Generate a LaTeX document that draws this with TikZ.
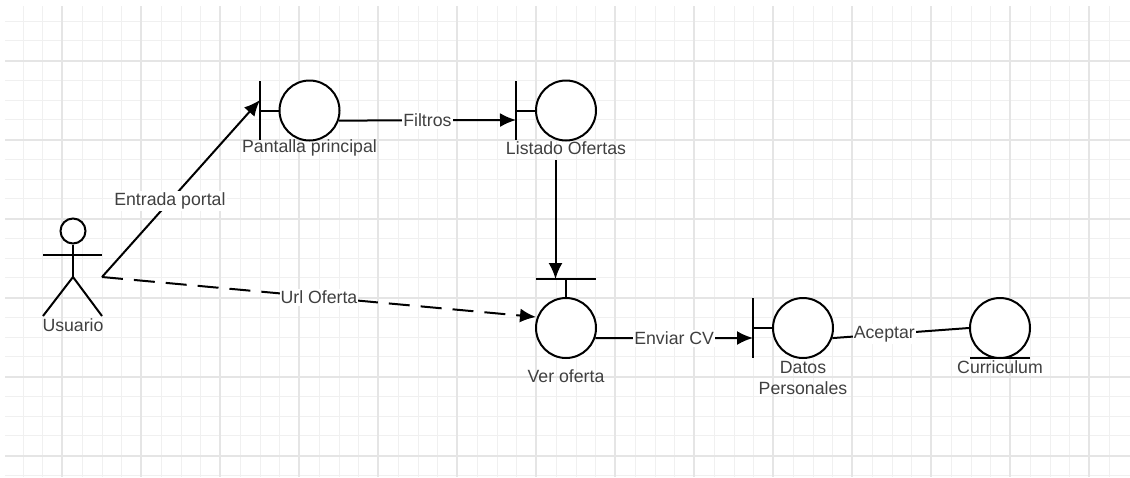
\documentclass[tikz,border=0pt]{standalone}
\usepackage{fontspec}
\setmainfont{Liberation Sans}
\usetikzlibrary{arrows.meta}
\begin{document}
\begin{tikzpicture}[x=1pt,y=-1pt,
  ball/.style={circle,draw,line width=2pt,fill=white,minimum size=60pt,inner sep=0pt},
  head/.style={circle,draw,line width=2pt,fill=white,minimum size=25pt,inner sep=0pt},
  bar/.style={line width=2pt},
  flow/.style={line width=2pt,-{Latex[length=16pt,width=14pt]}},
  plain/.style={line width=2pt},
  txt/.style={text=black!75,font=\fontsize{17.7}{21}\selectfont,align=center,inner sep=0pt},
  tag/.style={txt,fill=white,inner xsep=1pt,inner ysep=2pt}]
\useasboundingbox (0,0) rectangle (1130,477);
% grid
\foreach \i in {0,...,55} {
  \draw[black!6,line width=1pt] ({23+19.75*\i},6) -- ({23+19.75*\i},477);
}
\foreach \j in {0,...,23} {
  \draw[black!6,line width=1pt] (5,{21+19.75*\j}) -- (1130,{21+19.75*\j});
}
\foreach \i in {0,...,13} {
  \draw[black!10,line width=1.2pt] ({62+79*\i},6) -- ({62+79*\i},477);
}
\foreach \j in {0,...,5} {
  \draw[black!10,line width=1.2pt] (5,{61+79*\j}) -- (1130,{61+79*\j});
}
% actor
\node [head] (cabeza) at (73,231) {};
\coordinate (hombros) at (73,255);
\coordinate (brazoi) at (43,255);
\coordinate (brazod) at (102,255);
\coordinate (cadera) at (73,277);
\coordinate (piei) at (43,316);
\coordinate (pied) at (102,316);
\coordinate (salida) at (102,277);
\draw [plain] (cabeza) -- (cadera);
\draw [plain] (brazoi) -- (brazod);
\draw [plain] (piei) -- (cadera) -- (pied);
\node [txt] (usuario) at (73,325) {Usuario};
% circles
\node [ball] (pantalla) at (309.5,110.5) {};
\node [ball] (listado) at (566,110.5) {};
\node [ball] (oferta) at (566,328) {};
\node [ball] (datos) at (803,328) {};
\node [ball] (curriculum) at (1000,328) {};
% bars
\coordinate (pantallaA) at (260,81);
\coordinate (pantallaB) at (260,140);
\coordinate (pantallaC) at (260,110.5);
\coordinate (pantallaE) at (260,100);
\coordinate (listadoA) at (516,81);
\coordinate (listadoB) at (516,140);
\coordinate (listadoC) at (516,110.5);
\coordinate (listadoE) at (516,120);
\coordinate (ofertaA) at (536,279);
\coordinate (ofertaB) at (596,279);
\coordinate (ofertaC) at (566,279);
\coordinate (ofertaE) at (555.5,279);
\coordinate (ofertaF) at (536,317);
\coordinate (datosA) at (753,298);
\coordinate (datosB) at (753,358);
\coordinate (datosC) at (753,328);
\coordinate (datosE) at (753,338);
\coordinate (curriculumA) at (970,358);
\coordinate (curriculumB) at (1030,358);
\draw [bar] (pantallaA) -- (pantallaB);
\draw [bar] (pantallaC) -- (pantalla);
\draw [bar] (listadoA) -- (listadoB);
\draw [bar] (listadoC) -- (listado);
\draw [bar] (ofertaA) -- (ofertaB);
\draw [bar] (ofertaC) -- (oferta);
\draw [bar] (datosA) -- (datosB);
\draw [bar] (datosC) -- (datos);
\draw [bar] (curriculumA) -- (curriculumB);
% texts
\node [txt] (pantallatxt) at (309.5,148) {Pantalla principal};
\node [txt] (listadotxt) at (566,148) {Listado Ofertas};
\node [txt] (ofertatxt) at (566,376) {Ver oferta};
\node [txt] (datostxt) at (803,378) {Datos\\Personales};
\node [txt] (curriculumtxt) at (1000,367) {Curriculum};
% connectors
\coordinate (listadosal) at (555.5,160);
\draw [flow] (salida) -- node [tag,pos=0.43] (entrada) {Entrada portal} (pantallaE);
\draw [flow,dash pattern=on 21pt off 11pt] (salida) -- node [tag,pos=0.5] (url) {Url Oferta} (ofertaF);
\draw [flow] (pantalla.-19) -- node [tag,pos=0.5] (filtros) {Filtros} (listadoE);
\draw [flow] (listadosal) -- (ofertaE);
\draw [flow] (oferta.-19) -- node [tag,pos=0.5] (enviar) {Enviar CV} (datosE);
\draw [plain] (datos.-19) -- node [tag,pos=0.38] (aceptar) {Aceptar} (curriculum.west);
\end{tikzpicture}
\end{document}
